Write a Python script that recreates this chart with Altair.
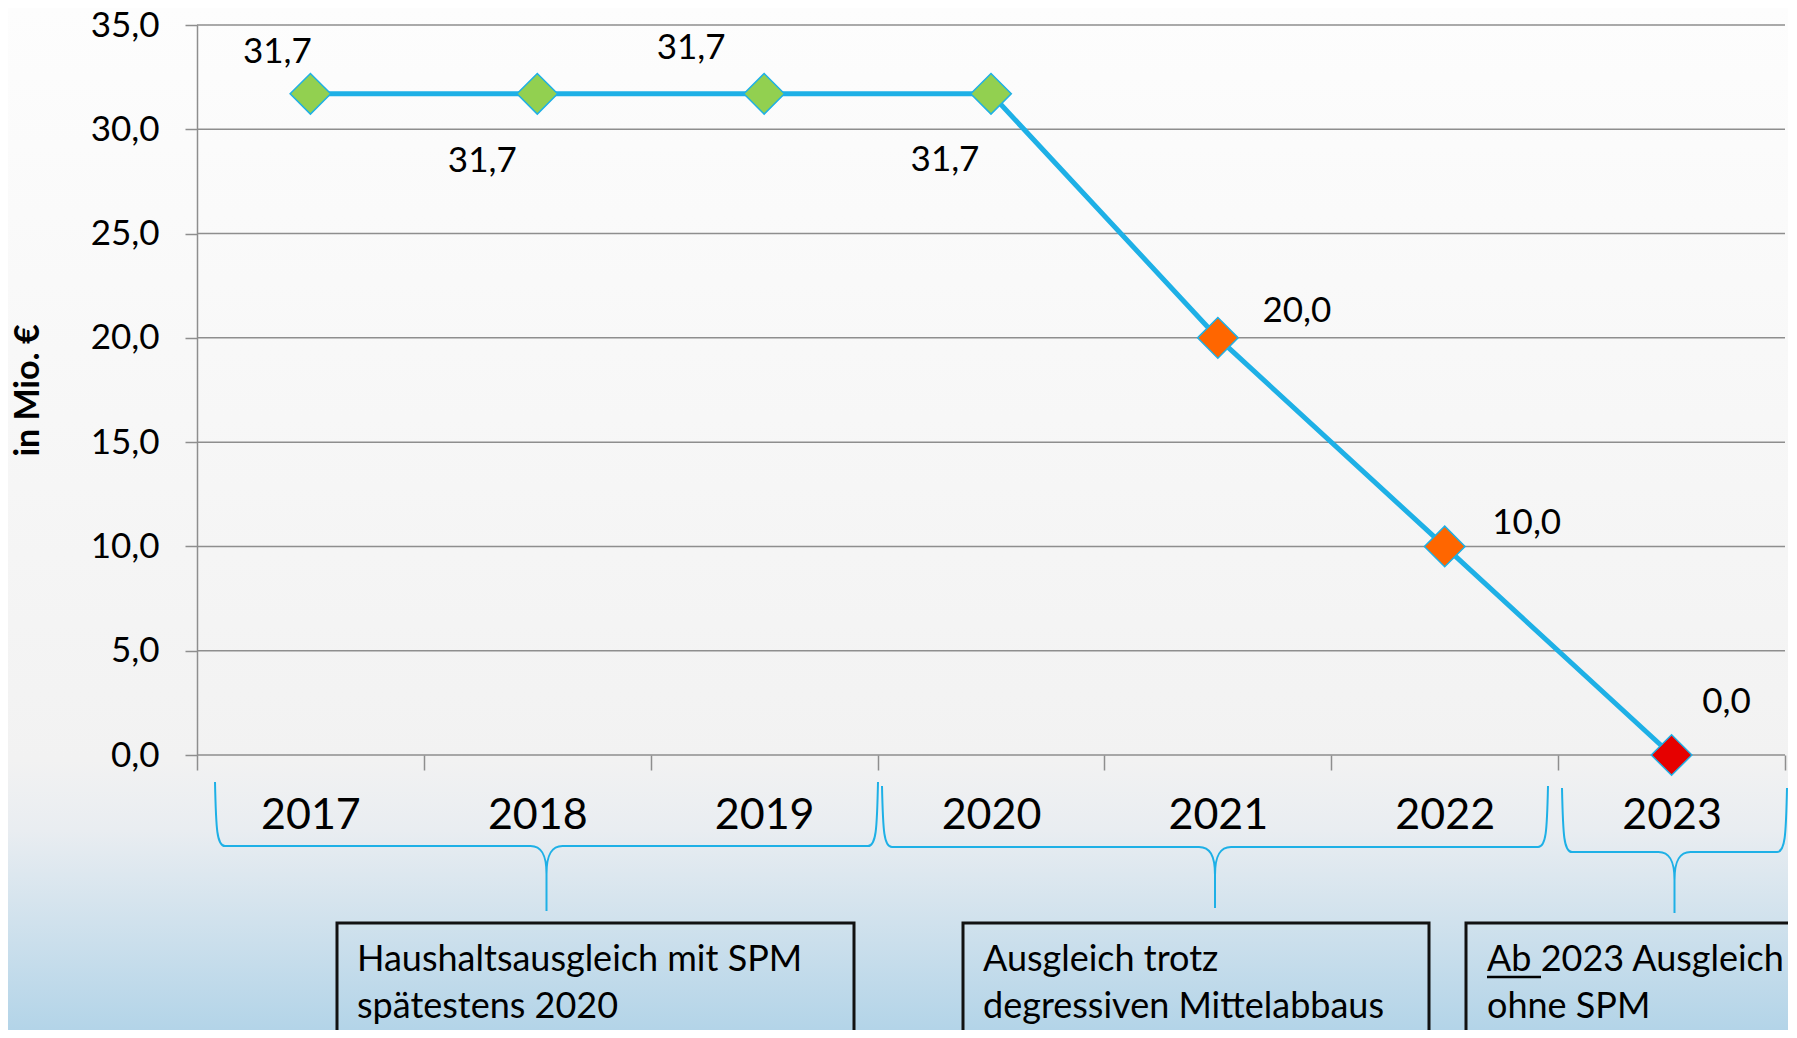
import altair as alt
import pandas as pd

# ---------------- data ----------------
years = [2017, 2018, 2019, 2020, 2021, 2022, 2023]
values = [31.7, 31.7, 31.7, 31.7, 20.0, 10.0, 0.0]
status = ["mit SPM", "mit SPM", "mit SPM", "mit SPM", "Abbau", "Abbau", "ohne SPM"]
status_domain = ["mit SPM", "Abbau", "ohne SPM"]
y_ticks = [0, 5, 10, 15, 20, 25, 30, 35]
y_title = "in Mio. €"
notes = [
    "Haushaltsausgleich mit SPM\nspätestens 2020",
    "Ausgleich trotz\ndegressiven Mittelabbaus",
    "Ab 2023 Ausgleich\nohne SPM",
]

# ---------------- styles / layout ----------------
FONT = "Lato"
LINE_BLUE = "#1eb0e6"
GRID = "#8e8e8e"
status_colors = ["#92d050", "#ff6600", "#e60000"]

PW, PH = 1588, 730          # plot area
OX, OY = 197, 25            # page position of plot origin
PAD = {"left": OX - 8, "top": OY - 8, "right": 3, "bottom": 275}


def px(x):
    return x - OX


def py(y):
    return y - OY


band = PW / len(years)

# label offsets (dx, dy) per year
label_off = {
    2017: (-33, -42), 2018: (-55, 67), 2019: (-73, -46), 2020: (-46, 66),
    2021: (79, -27), 2022: (82, -23), 2023: (55, -53),
}

# brace geometry (page px): left, right, top, middle, tip
brace_geom = [(215, 878, 782, 846, 911), (882, 1548, 786, 847, 908), (1562, 1787, 788, 852, 913)]
# note boxes (page px): left, right ; text x
box_geom = [(337, 854, 357), (963, 1429, 983), (1466, 1830, 1487)]
BOX_TOP, BOX_BOTTOM, TEXT_BASE = 923, 1080, 971


def brace_path(w, up, down):
    W = w / 2.0
    c, c2, k = 10.0, 16.0, 28.0

    def s(v):
        return f"{v / W:.5f}"

    return (
        f"M{s(-W)},{s(-up)} C{s(-W + 1)},{s(-up * 0.25)} {s(-W + 2)},0 {s(-W + c)},0 "
        f"L{s(-c2)},0 C{s(-c2 / 3)},0 0,{s(8)} 0,{s(k)} L0,{s(down)} "
        f"M0,{s(k)} C0,{s(8)} {s(c2 / 3)},0 {s(c2)},0 L{s(W - c)},0 "
        f"C{s(W - 2)},0 {s(W - 1)},{s(-up * 0.25)} {s(W)},{s(-up)}"
    )


df = pd.DataFrame({"year": years, "value": values, "status": status})

xscale = alt.Scale(domain=[years[0] - 0.5, years[-1] + 0.5], nice=False, zero=False)
yscale = alt.Scale(domain=[y_ticks[0], y_ticks[-1]], nice=False)

boundaries = [y - 0.5 for y in years] + [years[-1] + 0.5]

xaxis = alt.Axis(
    values=boundaries, title=None, grid=False, domain=False,
    ticks=True, tickSize=15, tickColor=GRID, tickWidth=1.5,
    labelOffset=band / 2, labelFlush=False, labelOverlap=False, labelBound=False,
    labelExpr=f"datum.value > {years[-1]} ? '' : toString(datum.value + 0.5)",
    labelFont=FONT, labelFontSize=43, labelColor="black",
    labelBaseline="middle", labelPadding=45, zindex=1,
)
yaxis = alt.Axis(
    values=y_ticks, grid=False, domain=True, domainColor=GRID, domainWidth=1.5,
    ticks=True, tickSize=12, tickColor=GRID, tickWidth=1.5,
    labelExpr="replace(format(datum.value, '.1f'), '.', ',')",
    labelFont=FONT, labelFontSize=35, labelColor="black", labelPadding=26,
    title=y_title, titleFont=FONT, titleFontSize=34, titleFontWeight="bold",
    titleColor="black", titleAngle=270, titleX=28 - OX, titleY=390 - OY,
    titleAlign="center", titleBaseline="middle", zindex=1,
)

one = alt.Data(values=[{"k": 0}])

# background gradient
H_TOTAL = PAD["top"] + PH + PAD["bottom"]


def off(page_y):
    return (page_y - 8) / H_TOTAL


gradient = alt.LinearGradient(
    gradient="linear", x1=0, y1=0, x2=0, y2=1,
    stops=[
        alt.GradientStop(offset=0, color="#fdfdfd"),
        alt.GradientStop(offset=off(760), color="#f2f2f2"),
        alt.GradientStop(offset=off(830), color="#e9edf1"),
        alt.GradientStop(offset=1, color="#b3d4e8"),
    ],
)
bg = alt.Chart(one).mark_rect(color=gradient).encode(
    x=alt.value(-PAD["left"]), x2=alt.value(PW + PAD["right"]),
    y=alt.value(-PAD["top"]), y2=alt.value(PH + PAD["bottom"]),
)

grid = alt.Chart(pd.DataFrame({"v": y_ticks})).mark_rule(color=GRID, strokeWidth=1.5).encode(
    y=alt.Y("v:Q", scale=yscale, axis=yaxis)
)

layers = [bg, grid]

# braces
for (l, r, t, m, tip) in brace_geom:
    w = r - l
    layers.append(
        alt.Chart(one).mark_point(
            shape=brace_path(w, m - t, tip - m), size=w * w, filled=False,
            stroke=LINE_BLUE, strokeWidth=2, opacity=1,
        ).encode(x=alt.value(px((l + r) / 2)), y=alt.value(py(m)))
    )

# note boxes and texts
for (l, r, tx), note in zip(box_geom, notes):
    layers.append(
        alt.Chart(one).mark_rect(fillOpacity=0, stroke="#111111", strokeWidth=3).encode(
            x=alt.value(px(l)), x2=alt.value(px(r)),
            y=alt.value(py(BOX_TOP)), y2=alt.value(py(BOX_BOTTOM)),
        )
    )
    layers.append(
        alt.Chart(pd.DataFrame({"t": [note]})).mark_text(
            align="left", baseline="alphabetic", lineBreak="\n", lineHeight=47,
            font=FONT, fontSize=36, color="black",
        ).encode(x=alt.value(px(tx)), y=alt.value(py(TEXT_BASE)), text="t:N")
    )

# underline of "Ab "
layers.append(
    alt.Chart(one).mark_rule(color="black", strokeWidth=2.5).encode(
        x=alt.value(px(1487)), x2=alt.value(px(1541)), y=alt.value(py(977))
    )
)

base = alt.Chart(df)
line = base.mark_line(color=LINE_BLUE, strokeWidth=5).encode(
    x=alt.X("year:Q", scale=xscale, axis=xaxis),
    y=alt.Y("value:Q", scale=yscale, axis=yaxis),
)
points = base.mark_point(
    shape="diamond", filled=True, size=1650, stroke=LINE_BLUE, strokeWidth=1.5, opacity=1
).encode(
    x=alt.X("year:Q", scale=xscale, axis=xaxis),
    y=alt.Y("value:Q", scale=yscale, axis=yaxis),
    fill=alt.Fill("status:N", scale=alt.Scale(domain=status_domain, range=status_colors), legend=None),
)
layers += [line, points]

for yr in years:
    dx, dy = label_off[yr]
    layers.append(
        base.transform_filter(alt.datum.year == yr)
        .transform_calculate(label="replace(format(datum.value, '.1f'), '.', ',')")
        .mark_text(dx=dx, dy=dy, font=FONT, fontSize=35, color="black",
                   align="center", baseline="middle")
        .encode(
            x=alt.X("year:Q", scale=xscale, axis=xaxis),
            y=alt.Y("value:Q", scale=yscale, axis=yaxis),
            text="label:N",
        )
    )

chart = (
    alt.layer(*layers)
    .properties(width=PW, height=PH, padding=PAD, autosize=alt.AutoSizeParams(type="none"))
    .configure_view(strokeWidth=0)
    .configure(background="#ffffff")
)

chart.save("out.html", embed_options={"renderer": "svg", "actions": False})
